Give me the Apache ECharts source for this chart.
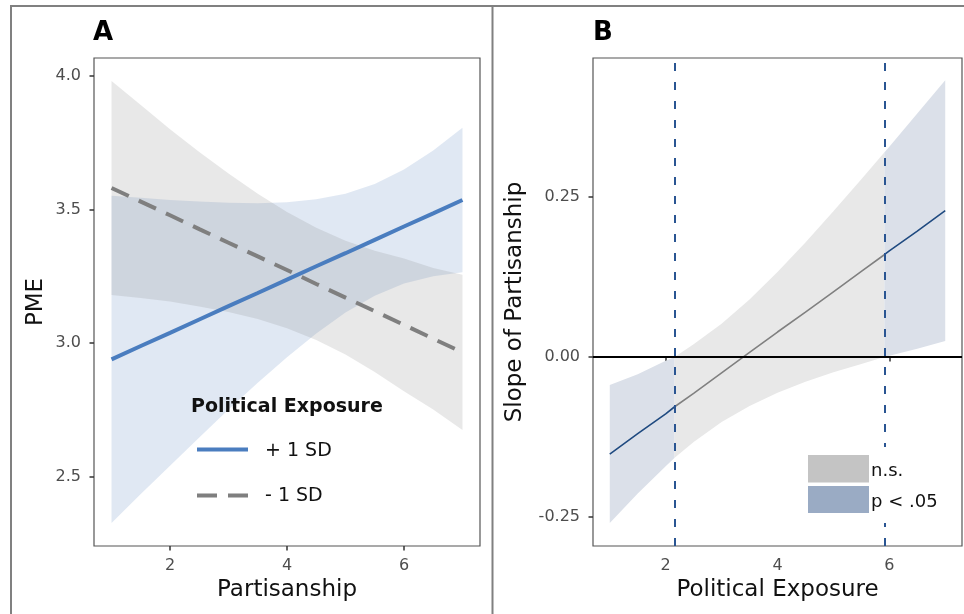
<!DOCTYPE html>
<html><head><meta charset="utf-8">
<script src="https://cdn.jsdelivr.net/npm/echarts@6/dist/echarts.min.js"></script>
<style>html,body{margin:0;padding:0;background:#fff}#c{width:964px;height:614px}</style>
</head><body><div id="c"></div>
<script>
// ---------- Panel A data ----------
const partisanship = [1, 1.5, 2, 2.5, 3, 3.5, 4, 4.5, 5, 5.5, 6, 6.5, 7];
const pmeHigh   = [2.939, 2.989, 3.038, 3.088, 3.138, 3.187, 3.237, 3.287, 3.336, 3.386, 3.436, 3.485, 3.535];
const pmeHighLo = [2.327, 2.435, 2.541, 2.647, 2.751, 2.851, 2.947, 3.036, 3.114, 3.177, 3.223, 3.250, 3.265];
const pmeHighHi = [3.551, 3.543, 3.535, 3.529, 3.525, 3.523, 3.527, 3.538, 3.558, 3.595, 3.649, 3.720, 3.805];
const pmeLow    = [3.580, 3.529, 3.478, 3.426, 3.375, 3.324, 3.273, 3.221, 3.170, 3.119, 3.068, 3.016, 2.965];
const pmeLowLo  = [3.180, 3.168, 3.155, 3.137, 3.116, 3.090, 3.055, 3.011, 2.957, 2.892, 2.820, 2.751, 2.675];
const pmeLowHi  = [3.980, 3.890, 3.800, 3.715, 3.634, 3.558, 3.490, 3.431, 3.383, 3.345, 3.316, 3.281, 3.255];
const xTicksA = [2, 4, 6];
const yTicksA = [2.5, 3.0, 3.5, 4.0];
const legendTitleA = 'Political Exposure';
const seriesNamesA = ['+ 1 SD', '- 1 SD'];

// ---------- Panel B data ----------
const exposure = [1, 1.5, 2, 2.16, 2.5, 3, 3.5, 4, 4.5, 5, 5.5, 5.91, 6, 6.5, 7];
const slope    = [-0.152, -0.120, -0.089, -0.078, -0.057, -0.025, 0.007, 0.039, 0.070, 0.102, 0.134, 0.160, 0.166, 0.197, 0.229];
const slopeLo  = [-0.260, -0.214, -0.171, -0.158, -0.133, -0.102, -0.077, -0.056, -0.039, -0.024, -0.011, 0.000, 0.002, 0.013, 0.025];
const slopeHi  = [-0.044, -0.027, -0.006, 0.000, 0.020, 0.052, 0.090, 0.133, 0.179, 0.228, 0.278, 0.320, 0.329, 0.381, 0.433];
const jnBounds = [2.16, 5.91];
const xTicksB = [2, 4, 6];
const yTicksB = [-0.25, 0, 0.25];
const legendLabelsB = ['n.s.', 'p < .05'];

const FONT = 'DejaVu Sans';
const chart = echarts.init(document.getElementById('c'), null, {renderer: 'canvas'});

function band(xi, yi, xs, lo, hi, color, z) {
  return {
    type: 'custom', xAxisIndex: xi, yAxisIndex: yi, z: z, silent: true,
    data: [[xs[0], lo[0]]],
    renderItem: function (params, api) {
      const pts = [];
      for (let i = 0; i < xs.length; i++) pts.push(api.coord([xs[i], hi[i]]));
      for (let i = xs.length - 1; i >= 0; i--) pts.push(api.coord([xs[i], lo[i]]));
      return {type: 'polygon', shape: {points: pts}, style: {fill: color}};
    }
  };
}
function pairs(xs, ys) { return xs.map((x, i) => [x, ys[i]]); }
function sliceIdx(a, b) {
  const idx = [];
  exposure.forEach((x, i) => { if (x >= a - 1e-9 && x <= b + 1e-9) idx.push(i); });
  return idx;
}
const segs = [
  {idx: sliceIdx(-Infinity, jnBounds[0]), sig: true},
  {idx: sliceIdx(jnBounds[0], jnBounds[1]), sig: false},
  {idx: sliceIdx(jnBounds[1], Infinity), sig: true}
];

const NAVY = '#1f4a80';
const BAND_BLUE_B = '#dbe0e9';
const BAND_GRAY_B = '#e8e8e8';

function axisCommon(ticks, fmt, margin) {
  return {
    type: 'value',
    axisLine: {show: false},
    splitLine: {show: false},
    axisTick: {show: true, length: 4.5, customValues: ticks, lineStyle: {color: '#333', width: 1.5}},
    axisLabel: {customValues: ticks, formatter: fmt, color: '#4d4d4d', fontSize: 16, fontFamily: FONT, margin: margin},
    nameLocation: 'middle',
    nameTextStyle: {fontSize: 23, color: '#111', fontFamily: FONT}
  };
}

const series = [];
// Panel A bands
series.push(band(0, 0, partisanship, pmeHighLo, pmeHighHi, 'rgba(83,127,188,0.18)', 1));
series.push(band(0, 0, partisanship, pmeLowLo, pmeLowHi, 'rgba(128,128,128,0.18)', 1));
series.push({
  type: 'line', name: seriesNamesA[0], xAxisIndex: 0, yAxisIndex: 0, z: 3,
  data: pairs(partisanship, pmeHigh), symbol: 'none',
  lineStyle: {color: '#4a7dbf', width: 4}
});
series.push({
  type: 'line', name: seriesNamesA[1], xAxisIndex: 0, yAxisIndex: 0, z: 3,
  data: pairs(partisanship, pmeLow), symbol: 'none',
  lineStyle: {color: '#7f7f7f', width: 4, type: [19, 11]}
});
// Panel B bands and line
segs.forEach(s => {
  const xs = s.idx.map(i => exposure[i]);
  series.push(band(1, 1, xs, s.idx.map(i => slopeLo[i]), s.idx.map(i => slopeHi[i]), s.sig ? BAND_BLUE_B : BAND_GRAY_B, 1));
});
segs.forEach((s, k) => {
  const line = {
    type: 'line', xAxisIndex: 1, yAxisIndex: 1, z: 3,
    data: s.idx.map(i => [exposure[i], slope[i]]), symbol: 'none',
    lineStyle: {color: s.sig ? NAVY : '#808080', width: 1.6}
  };
  if (k === 1) {
    line.markLine = {
      silent: true, symbol: ['none', 'none'], label: {show: false}, animation: false,
      data: [
        {yAxis: 0, lineStyle: {color: '#000', width: 2, type: 'solid'}},
        {xAxis: jnBounds[0], lineStyle: {color: '#2a5592', width: 2, type: [8, 11]}},
        {xAxis: jnBounds[1], lineStyle: {color: '#2a5592', width: 2, type: [8, 11]}}
      ]
    };
  }
  series.push(line);
});

const graphic = [
  {type: 'rect', shape: {x: 10, y: 5, width: 954, height: 2}, style: {fill: '#808080'}, z: 50, silent: true},
  {type: 'rect', shape: {x: 10, y: 5, width: 2, height: 609}, style: {fill: '#808080'}, z: 50, silent: true},
  {type: 'rect', shape: {x: 491.5, y: 5, width: 2, height: 609}, style: {fill: '#808080'}, z: 50, silent: true},
  {type: 'text', x: 93, y: 33, style: {text: 'A', font: 'bold 26px "DejaVu Sans"', fill: '#000', verticalAlign: 'middle'}, z: 50},
  {type: 'text', x: 593, y: 33, style: {text: 'B', font: 'bold 26px "DejaVu Sans"', fill: '#000', verticalAlign: 'middle'}, z: 50},
  // Legend A
  {type: 'text', x: 191, y: 407, style: {text: legendTitleA, font: 'bold 19px "DejaVu Sans"', fill: '#111', verticalAlign: 'middle'}, z: 50},
  {type: 'line', shape: {x1: 197, y1: 449.5, x2: 248, y2: 449.5}, style: {stroke: '#4a7dbf', lineWidth: 4}, z: 50},
  {type: 'line', shape: {x1: 197, y1: 495.5, x2: 248, y2: 495.5}, style: {stroke: '#7f7f7f', lineWidth: 4, lineDash: [20, 11]}, z: 50},
  {type: 'text', x: 265, y: 451, style: {text: seriesNamesA[0], font: '19px "DejaVu Sans"', fill: '#111', verticalAlign: 'middle'}, z: 50},
  {type: 'text', x: 265, y: 496, style: {text: seriesNamesA[1], font: '19px "DejaVu Sans"', fill: '#111', verticalAlign: 'middle'}, z: 50},
  // Legend B
  {type: 'rect', shape: {x: 804, y: 447, width: 140, height: 76}, style: {fill: '#fff'}, z: 40},
  {type: 'rect', shape: {x: 808, y: 455, width: 61, height: 27.5}, style: {fill: '#c4c4c4'}, z: 50},
  {type: 'rect', shape: {x: 808, y: 486, width: 61, height: 27}, style: {fill: '#9aabc4'}, z: 50},
  {type: 'text', x: 871, y: 471, style: {text: legendLabelsB[0], font: '18px "DejaVu Sans"', fill: '#111', verticalAlign: 'middle'}, z: 50},
  {type: 'text', x: 871, y: 502, style: {text: legendLabelsB[1], font: '18px "DejaVu Sans"', fill: '#111', verticalAlign: 'middle'}, z: 50}
];

const option = {
  animation: false,
  backgroundColor: '#fff',
  grid: [
    {left: 94, top: 58, width: 386, height: 488, show: true, borderColor: '#555', borderWidth: 1.2, backgroundColor: 'transparent'},
    {left: 593, top: 58, width: 369, height: 488, show: true, borderColor: '#555', borderWidth: 1.2, backgroundColor: 'transparent'}
  ],
  xAxis: [
    Object.assign(axisCommon(xTicksA, v => String(v), 12), {gridIndex: 0, min: 0.7, max: 7.3, name: 'Partisanship', nameGap: 33}),
    Object.assign(axisCommon(xTicksB, v => String(v), 12), {gridIndex: 1, min: 0.7, max: 7.3, name: 'Political Exposure', nameGap: 33})
  ],
  yAxis: [
    Object.assign(axisCommon(yTicksA, v => v.toFixed(1), 13), {gridIndex: 0, min: 2.2407, max: 4.0662, name: 'PME', nameGap: 46}),
    Object.assign(axisCommon(yTicksB, v => v.toFixed(2), 13), {gridIndex: 1, min: -0.296, max: 0.468, name: 'Slope of Partisanship', nameGap: 66})
  ],
  series: series,
  graphic: graphic
};
chart.setOption(option);
</script>
</body></html>
